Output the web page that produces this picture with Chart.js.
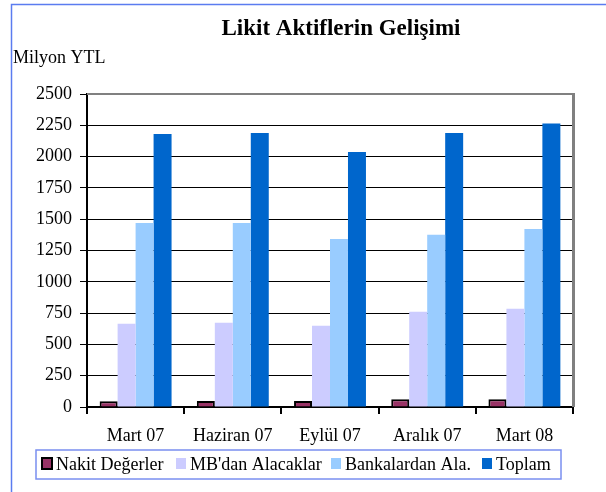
<!DOCTYPE html>
<html>
<head>
<meta charset="utf-8">
<script src="https://cdn.jsdelivr.net/npm/chart.js@4.4.0/dist/chart.umd.min.js"></script>
<style>
  html, body { margin: 0; padding: 0; background: #fff; }
  #wrap { width: 606px; height: 492px; position: relative; }
</style>
</head>
<body>
<div id="wrap"><canvas id="c" width="606" height="492"></canvas></div>
<script>
// veriler
const categories = ["Mart 07", "Haziran 07", "Eylül 07", "Aralık 07", "Mart 08"];
const nakit = [45, 48, 47, 62, 62];
const mbAlacak = [665, 672, 648, 760, 785];
const bankalar = [1470, 1470, 1342, 1375, 1422];
const toplam = [2180, 2188, 2037, 2188, 2265];
const yTicks = [0, 250, 500, 750, 1000, 1250, 1500, 1750, 2000, 2250, 2500];

const FONT = "'Liberation Serif', 'Times New Roman', serif";

// cerceve, baslik, birim ve lejant
const decor = {
  id: "decor",
  beforeDraw(chart) {
    const ctx = chart.ctx;
    ctx.save();
    ctx.fillStyle = "#fff";
    ctx.fillRect(0, 0, chart.width, chart.height);
    ctx.strokeStyle = "#5b7cf0";
    ctx.lineWidth = 1.5;
    ctx.beginPath();
    ctx.moveTo(11.5, 492);
    ctx.lineTo(11.5, 4.5);
    ctx.lineTo(606, 4.5);
    ctx.stroke();
    ctx.restore();
  },
  afterDraw(chart) {
    const ctx = chart.ctx;
    const a = chart.chartArea;
    ctx.save();
    // ust ve sag gri kenar
    ctx.strokeStyle = "#808080";
    ctx.lineWidth = 2;
    ctx.beginPath();
    ctx.moveTo(a.left, a.top);
    ctx.lineTo(a.right, a.top);
    ctx.stroke();
    ctx.lineWidth = 3;
    ctx.beginPath();
    ctx.moveTo(a.right + 0.5, a.top - 1);
    ctx.lineTo(a.right + 0.5, a.bottom);
    ctx.stroke();

    ctx.fillStyle = "#000";
    ctx.textBaseline = "middle";
    ctx.textAlign = "center";
    ctx.font = "bold 23px " + FONT;
    ctx.fillText("Likit Aktiflerin Gelişimi", 341, 29);
    ctx.textAlign = "left";
    ctx.font = "18px " + FONT;
    ctx.fillText("Milyon YTL", 13, 58);

    // lejant
    ctx.strokeStyle = "#7a8ff0";
    ctx.lineWidth = 1.5;
    ctx.strokeRect(36, 450, 525, 29);
    const pos = [42, 176, 331, 482];
    chart.data.datasets.forEach((ds, i) => {
      const x = pos[i];
      ctx.fillStyle = ds.backgroundColor;
      ctx.fillRect(x, 458, 10, 11);
      if (ds.borderWidth) {
        ctx.strokeStyle = "#000";
        ctx.lineWidth = 2;
        ctx.strokeRect(x, 458, 10, 11);
      }
      ctx.fillStyle = "#000";
      ctx.font = "18px " + FONT;
      ctx.textBaseline = "middle";
      ctx.fillText(ds.label, x + 14, 465);
    });
    ctx.restore();
  },
};

new Chart(document.getElementById("c"), {
  type: "bar",
  data: {
    labels: categories,
    datasets: [
      { label: "Nakit Değerler", data: nakit, backgroundColor: "#993366", borderColor: "#000", borderWidth: 2 },
      { label: "MB'dan Alacaklar", data: mbAlacak, backgroundColor: "#ccccff", borderWidth: 0 },
      { label: "Bankalardan Ala.", data: bankalar, backgroundColor: "#99ccff", borderWidth: 0 },
      { label: "Toplam", data: toplam, backgroundColor: "#0066cc", borderWidth: 0 },
    ],
  },
  options: {
    responsive: false,
    animation: false,
    devicePixelRatio: 1,
    layout: { padding: { top: 94, right: 33, left: 0, bottom: 0 } },
    datasets: { bar: { categoryPercentage: 0.74, barPercentage: 1 } },
    plugins: { legend: { display: false }, title: { display: false }, tooltip: { enabled: false } },
    scales: {
      x: {
        offset: true,
        grid: { offset: true, drawOnChartArea: false, drawTicks: true, tickLength: 7, color: "#000", lineWidth: 2 },
        border: { color: "#000", width: 2 },
        ticks: { color: "#000", font: { family: FONT, size: 18 }, padding: 11 },
        afterFit(s) { s.height = 85; },
      },
      y: {
        min: 0,
        max: 2500,
        afterBuildTicks(s) { s.ticks = yTicks.map((v) => ({ value: v })); },
        grid: { color: "#000", lineWidth: 1, drawTicks: true, tickLength: 7 },
        border: { color: "#000", width: 2 },
        ticks: { color: "#000", font: { family: FONT, size: 18 }, padding: 8, callback: (v) => String(v) },
        afterFit(s) { s.width = 87; },
      },
    },
  },
  plugins: [decor],
});
</script>
</body>
</html>
